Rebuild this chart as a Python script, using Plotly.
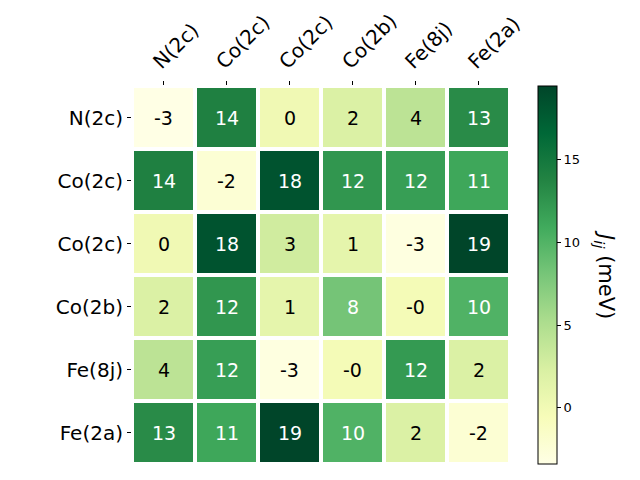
import plotly.graph_objects as go

labels = ["N(2c)", "Co(2c)", "Co(2c)", "Co(2b)", "Fe(8j)", "Fe(2a)"]

row_n2c  = [-3.4, 14.1,  0.1,  2.1,  4.2, 13.2]
row_co2c = [14.1, -2.3, 18.3, 12.4, 11.8, 11.2]
row_co2c2 = [0.1, 18.3,  2.9,  1.2, -3.1, 19.45]
row_co2b = [ 2.1, 12.4,  1.2,  8.2, -0.3, 10.1]
row_fe8j = [ 4.2, 11.8, -3.1, -0.3, 12.1,  2.1]
row_fe2a = [13.2, 11.2, 19.45, 10.1, 2.1, -2.2]

z = [row_n2c, row_co2c, row_co2c2, row_co2b, row_fe8j, row_fe2a]

ylgn = ["#ffffe5", "#f7fcb9", "#d9f0a3", "#addd8e", "#78c679",
        "#41ab5d", "#238443", "#006837", "#004529"]
colorscale = [[i / (len(ylgn) - 1), c] for i, c in enumerate(ylgn)]

zmin = min(min(r) for r in z)
zmax = max(max(r) for r in z)
threshold = (zmin + zmax) / 2

idx = list(range(len(labels)))

fig = go.Figure(go.Heatmap(
    z=z, x=idx, y=idx,
    colorscale=colorscale, zmin=zmin, zmax=zmax,
    xgap=4, ygap=4,
    hoverinfo="skip",
    colorbar=dict(
        x=1.0748, xanchor="left", xpad=0, ypad=0,
        y=0.5, yanchor="middle", len=1.0, lenmode="fraction",
        thickness=19, thicknessmode="pixels",
        outlinewidth=1, outlinecolor="black",
        ticks="outside", ticklen=4, tickwidth=1, tickcolor="black",
        tickvals=[0, 5, 10, 15],
        tickfont=dict(family="DejaVu Sans", size=13, color="black"),
    ),
))

annotations = []
for i, row in enumerate(z):
    for j, v in enumerate(row):
        annotations.append(dict(
            x=j, y=i, xref="x", yref="y", text=f"{v:.0f}", showarrow=False,
            font=dict(family="DejaVu Sans", size=19,
                      color="white" if v > threshold else "black"),
        ))

annotations.append(dict(
    x=1.251, y=0.5, xref="paper", yref="paper",
    xanchor="center", yanchor="middle",
    text="<i>J</i><sub><i>ij</i></sub> (meV)", showarrow=False, textangle=90,
    font=dict(family="DejaVu Sans", size=21, color="black"),
))

fig.update_layout(
    width=640, height=480,
    margin=dict(l=123.5, r=138, t=78, b=23.5, autoexpand=False),
    paper_bgcolor="white", plot_bgcolor="white",
    annotations=annotations,
    showlegend=False,
)
fig.update_xaxes(
    side="top", tickmode="array", tickvals=idx, ticktext=labels,
    tickangle=-45, ticks="outside", ticklen=4, tickcolor="black",
    ticklabelshift=-9,
    tickfont=dict(family="DejaVu Sans", size=20, color="black"),
    showgrid=False, zeroline=False, showline=False,
    range=[-0.5, 5.5],
)
fig.update_yaxes(
    tickmode="array", tickvals=idx, ticktext=labels,
    ticks="outside", ticklen=4, tickcolor="black",
    tickfont=dict(family="DejaVu Sans", size=20, color="black"),
    showgrid=False, zeroline=False, showline=False,
    range=[5.5, -0.5],
)

fig.write_html("out.html")
